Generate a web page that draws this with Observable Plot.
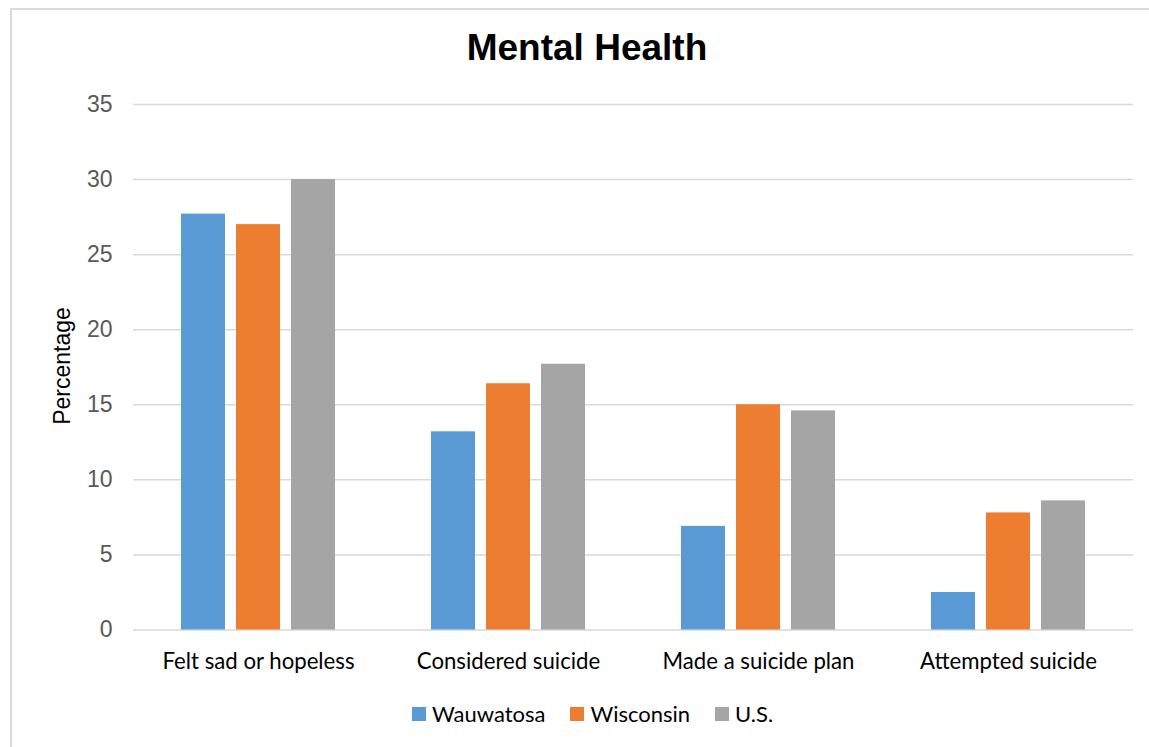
<!DOCTYPE html>
<html>
<head>
<meta charset="utf-8">
<script src="https://cdn.jsdelivr.net/npm/d3@7"></script>
<script src="https://cdn.jsdelivr.net/npm/@observablehq/plot@0.6"></script>
<style>
  html, body { margin: 0; padding: 0; background: #fff; }
  #chart { position: relative; width: 1149px; height: 747px; overflow: hidden; }
  #frame { position: absolute; left: 10px; top: 8px; width: 1400px; height: 900px;
           border-left: 2px solid #d9d9d9; border-top: 2px solid #d9d9d9; }
  #title { position: absolute; left: 0; top: 27px; width: 1174px; text-align: center;
           font: bold 37px "Liberation Sans", Arial, sans-serif; color: #000; }
  #ylabel { position: absolute; left: 62px; top: 366px; transform: translate(-50%, -50%) rotate(-90deg);
            font: 23px "Liberation Sans", Arial, sans-serif; color: #000; white-space: nowrap; }
  #plot { position: absolute; left: 0; top: 0; }
  #legend { position: absolute; left: 412px; top: 700px; display: flex; align-items: center;
            font: 22px Lato, "Open Sans", sans-serif; color: #000; }
  #legend .item { display: flex; align-items: center; margin-right: 25px; }
  #legend .swatch { width: 14px; height: 14px; margin-right: 6px; }
</style>
</head>
<body>
<div id="chart">
  <div id="frame"></div>
  <div id="title">Mental Health</div>
  <div id="ylabel">Percentage</div>
  <div id="plot"></div>
  <div id="legend"></div>
</div>
<script>
// Survey categories and the three comparison groups
const categories = ["Felt sad or hopeless", "Considered suicide", "Made a suicide plan", "Attempted suicide"];
const series = ["Wauwatosa", "Wisconsin", "U.S."];
const colors = ["#5B9BD5", "#ED7D31", "#A5A5A5"];

// Percent of students, one value per category
const wauwatosa = [27.7, 13.2, 6.9, 2.5];
const wisconsin = [27.0, 16.4, 15.0, 7.8];
const us = [30.0, 17.7, 14.6, 8.6];

const yTicks = [0, 5, 10, 15, 20, 25, 30, 35];

const valuesBySeries = [wauwatosa, wisconsin, us];
const data = [];
categories.forEach((c, i) => {
  series.forEach((s, j) => data.push({category: c, series: s, value: valuesBySeries[j][i]}));
});

const plot = Plot.plot({
  width: 1149,
  height: 680,
  marginLeft: 132,
  marginRight: 15,
  marginTop: 104,
  marginBottom: 50.5,
  style: {background: "transparent", overflow: "visible"},
  fx: {domain: categories, padding: 0, label: null},
  x: {domain: series, paddingInner: 0.207, paddingOuter: 0.8625, axis: null},
  y: {domain: [0, 35], label: null},
  color: {domain: series, range: colors},
  marks: [
    Plot.gridY(yTicks, {stroke: "#d9d9d9", strokeOpacity: 1, strokeWidth: 1.5}),
    Plot.barY(data, {fx: "category", x: "series", y: "value", fill: "series"}),
    Plot.axisY({ticks: yTicks, tickSize: 0, tickPadding: 21, fontSize: 23,
                fontFamily: "Liberation Sans, Arial, sans-serif", color: "#595959", label: null}),
    Plot.axisFx({anchor: "bottom", tickSize: 0, tickPadding: 23, fontSize: 22.2,
                 fontFamily: "Lato, Open Sans, sans-serif", color: "#000", label: null})
  ]
});
document.getElementById("plot").appendChild(plot);

// Legend below the chart
const legend = d3.select("#legend");
series.forEach((s, i) => {
  const item = legend.append("div").attr("class", "item");
  item.append("div").attr("class", "swatch").style("background", colors[i]);
  item.append("span").text(s);
});
</script>
</body>
</html>
